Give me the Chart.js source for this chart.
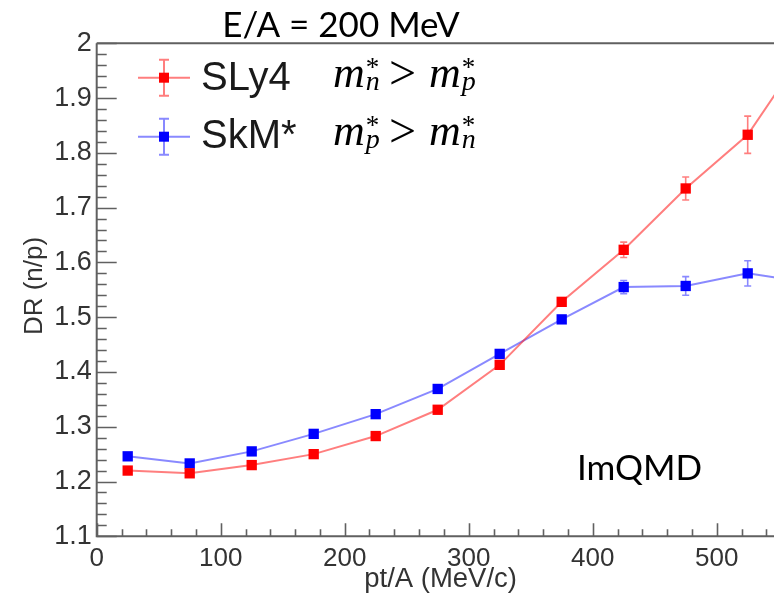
<!DOCTYPE html>
<html>
<head>
<meta charset="utf-8">
<script src="https://cdn.jsdelivr.net/npm/chart.js@4/dist/chart.umd.min.js"></script>
<style>
  html, body { margin: 0; padding: 0; background: #fff; overflow: hidden; }
  #wrap { position: absolute; left: 0; top: 0; width: 860px; height: 598px; }
</style>
</head>
<body>
<div id="wrap"><canvas id="c"></canvas></div>
<script>
// pt/A bin centres (MeV/c)
const ptBins = [25, 75, 125, 175, 225, 275, 325, 375, 425, 475, 525, 575];

// SLy4 (m*_n > m*_p) double ratio and errors
const sly4 = [1.220, 1.215, 1.230, 1.250, 1.283, 1.331, 1.413, 1.528, 1.623, 1.735, 1.833, 2.000];
const sly4Err = [0.003, 0.003, 0.003, 0.003, 0.004, 0.004, 0.005, 0.006, 0.014, 0.021, 0.034, 0.045];

// SkM* (m*_p > m*_n) double ratio and errors
const skm = [1.246, 1.233, 1.255, 1.287, 1.323, 1.369, 1.433, 1.496, 1.555, 1.557, 1.580, 1.563];
const skmErr = [0.003, 0.003, 0.003, 0.003, 0.004, 0.004, 0.005, 0.005, 0.012, 0.017, 0.023, 0.027];

// axis ticks
const xTickValues = [0, 100, 200, 300, 400, 500];
const xTickLabels = ['0', '100', '200', '300', '400', '500'];
const yTickValues = [1.1, 1.2, 1.3, 1.4, 1.5, 1.6, 1.7, 1.8, 1.9, 2.0];
const yTickLabels = ['1.1', '1.2', '1.3', '1.4', '1.5', '1.6', '1.7', '1.8', '1.9', '2'];

const RED = '#ff0000', RED_LINE = 'rgba(255,40,40,0.6)';
const BLUE = '#0000ff', BLUE_LINE = 'rgba(40,40,255,0.55)';
const AXIS = '#606060';
const SANS = '"Liberation Sans", Arial, sans-serif';

const series = [
  { values: sly4, errors: sly4Err },
  { values: skm, errors: skmErr }
];

// vertical error bars with small caps, drawn beneath the markers
const errorBars = {
  id: 'errorBars',
  beforeDatasetsDraw(chart) {
    const ctx = chart.ctx, xs = chart.scales.x, ys = chart.scales.y;
    ctx.save();
    chart.data.datasets.forEach((ds, i) => {
      const s = series[i];
      ctx.strokeStyle = ds.borderColor;
      ctx.lineWidth = 1.6;
      s.values.forEach((v, j) => {
        const px = xs.getPixelForValue(ptBins[j]);
        const y1 = ys.getPixelForValue(v + s.errors[j]);
        const y2 = ys.getPixelForValue(v - s.errors[j]);
        ctx.beginPath();
        ctx.moveTo(px, y1); ctx.lineTo(px, y2);
        ctx.moveTo(px - 3.5, y1); ctx.lineTo(px + 3.5, y1);
        ctx.moveTo(px - 3.5, y2); ctx.lineTo(px + 3.5, y2);
        ctx.stroke();
      });
    });
    ctx.restore();
  }
};

// axis lines, frame top, inward major/minor ticks
const frame = {
  id: 'frame',
  afterDraw(chart) {
    const ctx = chart.ctx, xs = chart.scales.x, ys = chart.scales.y, a = chart.chartArea;
    ctx.save();
    ctx.strokeStyle = AXIS;
    ctx.lineWidth = 2;
    ctx.beginPath();
    ctx.moveTo(a.left, a.top); ctx.lineTo(a.right, a.top);
    ctx.moveTo(a.left, a.top); ctx.lineTo(a.left, a.bottom);
    ctx.lineTo(a.right, a.bottom);
    ctx.stroke();
    ctx.lineWidth = 1.6;
    ctx.beginPath();
    for (let k = 0; k <= 45; k++) {
      const v = 1.1 + k * 0.02;
      const py = Math.round(ys.getPixelForValue(v)) + 0.5;
      const len = (k % 5 === 0) ? 20 : 10;
      ctx.moveTo(a.left, py); ctx.lineTo(a.left + len, py);
    }
    for (let k = 0; k <= 30; k++) {
      const v = k * 20;
      const px = Math.round(xs.getPixelForValue(v)) + 0.5;
      const len = (k % 5 === 0) ? 13 : 7;
      ctx.moveTo(px, a.bottom); ctx.lineTo(px, a.bottom - len);
    }
    ctx.stroke();
    ctx.restore();
  }
};

function mathTerm(ctx, x, base, sub) {
  ctx.font = 'italic 44px "Liberation Serif", serif';
  ctx.fillText('m', x, base);
  const w = ctx.measureText('m').width;
  ctx.font = 'italic 28px "Liberation Serif", serif';
  ctx.fillText(sub, x + w + 1, base + 3);
  ctx.font = '27px "Liberation Serif", serif';
  ctx.fillText('*', x + w + 1, base - 11);
}

// title, axis titles, legend and annotations
const labels = {
  id: 'labels',
  afterDraw(chart) {
    const ctx = chart.ctx;
    ctx.save();
    ctx.fillStyle = '#000';
    ctx.textBaseline = 'alphabetic';
    ctx.textAlign = 'center';
    ctx.font = '35px Lato, "Open Sans", sans-serif';
    ctx.fillText('E/A = 200 MeV', 341, 37);
    ctx.textAlign = 'left';
    ctx.fillText('ImQMD', 577, 480);

    ctx.fillStyle = '#333';
    ctx.font = '27.5px ' + SANS;
    ctx.textAlign = 'right';
    ctx.fillText('pt/A (MeV/c)', 517, 587);
    ctx.save();
    ctx.translate(42, 286);
    ctx.rotate(-Math.PI / 2);
    ctx.textAlign = 'center';
    ctx.font = '26px ' + SANS;
    ctx.fillText('DR (n/p)', 0, 0);
    ctx.restore();

    // legend entries
    const entries = [
      { name: 'SLy4', y: 77.7, c: RED, lc: RED_LINE, base: 90, sub1: 'n', sub2: 'p' },
      { name: 'SkM*', y: 136.7, c: BLUE, lc: BLUE_LINE, base: 148, sub1: 'p', sub2: 'n' }
    ];
    entries.forEach(e => {
      ctx.strokeStyle = e.lc;
      ctx.lineWidth = 2;
      ctx.beginPath();
      ctx.moveTo(138, e.y); ctx.lineTo(190, e.y);
      ctx.moveTo(164, e.y - 18); ctx.lineTo(164, e.y + 18);
      ctx.moveTo(159, e.y - 18); ctx.lineTo(169, e.y - 18);
      ctx.moveTo(159, e.y + 18); ctx.lineTo(169, e.y + 18);
      ctx.stroke();
      ctx.fillStyle = e.c;
      ctx.fillRect(159, e.y - 5, 10, 10);
      ctx.fillStyle = '#1a1a1a';
      ctx.textAlign = 'left';
      ctx.font = '40px ' + SANS;
      ctx.fillText(e.name, 201, e.base);
      ctx.fillStyle = '#000';
      mathTerm(ctx, 333, e.base - 3, e.sub1);
      ctx.font = '48px "Liberation Serif", serif';
      ctx.fillText('>', 389, e.base - 1);
      mathTerm(ctx, 429, e.base - 3, e.sub2);
    });
    ctx.restore();
  }
};

new Chart(document.getElementById('c'), {
  type: 'line',
  data: {
    datasets: [
      {
        label: 'SLy4',
        data: sly4.map((v, i) => ({ x: ptBins[i], y: v })),
        borderColor: RED_LINE, borderWidth: 2,
        pointStyle: 'rect', pointRadius: 7.3, pointBackgroundColor: RED,
        pointBorderColor: RED, pointBorderWidth: 0, tension: 0
      },
      {
        label: 'SkM*',
        data: skm.map((v, i) => ({ x: ptBins[i], y: v })),
        borderColor: BLUE_LINE, borderWidth: 2,
        pointStyle: 'rect', pointRadius: 7.3, pointBackgroundColor: BLUE,
        pointBorderColor: BLUE, pointBorderWidth: 0, tension: 0
      }
    ]
  },
  options: {
    responsive: true,
    maintainAspectRatio: false,
    animation: false,
    clip: false,
    layout: { padding: { left: 0, top: 43.3, right: 19.3, bottom: 0 } },
    plugins: { legend: { display: false }, title: { display: false }, tooltip: { enabled: false } },
    scales: {
      x: {
        type: 'linear', min: 0, max: 600,
        grid: { display: false, drawTicks: false },
        border: { display: false },
        afterFit(s) { s.height = 61.7; },
        afterBuildTicks(s) { s.ticks = xTickValues.map(v => ({ value: v })); },
        ticks: {
          autoSkip: false, maxRotation: 0, padding: 7, color: '#333',
          font: { family: SANS, size: 26 },
          callback: (v, i) => xTickLabels[i]
        }
      },
      y: {
        type: 'linear', min: 1.1, max: 2.0,
        grid: { display: false, drawTicks: false },
        border: { display: false },
        afterFit(s) { s.width = 96.7; },
        afterBuildTicks(s) { s.ticks = yTickValues.map(v => ({ value: v })); },
        ticks: {
          autoSkip: false, padding: 5, color: '#333',
          font: { family: SANS, size: 27 },
          callback: (v, i) => yTickLabels[i]
        }
      }
    }
  },
  plugins: [errorBars, frame, labels]
});
</script>
</body>
</html>
